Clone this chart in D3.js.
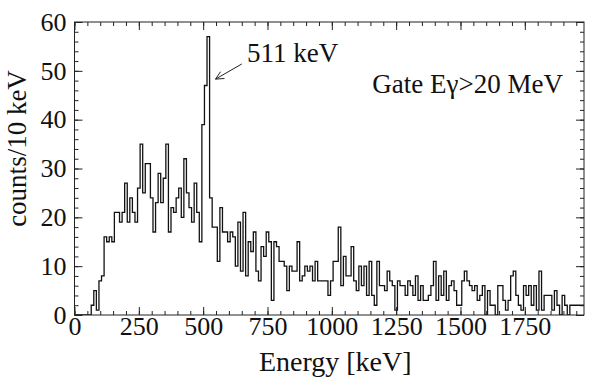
<!DOCTYPE html>
<html>
<head>
<meta charset="utf-8">
<script src="https://cdn.jsdelivr.net/npm/d3@7"></script>
<style>
  body { margin: 0; background: #fff; }
  svg text { font-family: "Liberation Serif", "Times New Roman", serif; fill: #111; }
</style>
</head>
<body>
<svg id="chart"></svg>
<script>
// counts per 10 keV bin, first bin starts at 5 keV
var counts = [
  0,0,0,0,0,0,2,5,1,7,
  8,16,15,16,15,21,21,19,21,27,
  19,24,21,19,26,35,25,31,31,24,
  17,23,29,23,28,35,17,22,21,24,
  26,20,32,25,22,19,27,21,15,39,
  47,57,24,18,18,11,22,17,17,15,
  17,16,10,19,9,21,8,15,13,17,
  9,7,14,12,17,15,3,15,14,11,
  11,10,5,10,9,9,15,7,8,10,
  9,10,7,11,7,7,7,7,4,7,
  11,11,18,6,12,8,8,14,7,5,
  10,6,10,4,11,4,2,11,6,6,
  5,9,7,6,1,7,6,6,4,7,
  6,4,8,3,6,3,3,4,6,11,
  3,8,4,9,3,6,7,5,2,2,
  7,9,7,6,5,6,3,4,6,0,
  5,2,2,0,6,6,3,1,3,8,
  9,4,2,1,6,4,6,2,6,1,
  9,1,4,4,4,1,5,2,0,4,
  2,0,2,2,2,2,2,2
];
var firstEdge = 5, binWidth = 10;
var xTicks = [0, 250, 500, 750, 1000, 1250, 1500, 1750];
var yTicks = [0, 10, 20, 30, 40, 50, 60];
var xMinor = d3.range(0, 1980, 50);
var yMinor = d3.range(0, 61, 2);

// Set the dimensions and margins
var margin = {top: 22, right: 8, bottom: 66, left: 74.5},
  width = 592 - margin.left - margin.right,
  height = 381 - margin.top - margin.bottom;

var svg = d3.select("#chart")
  .attr("width", 592)
  .attr("height", 381)
.append("g")
  .attr("transform", "translate(" + margin.left + "," + margin.top + ")");

var x = d3.scaleLinear().domain([0, 1980]).range([0, width]);
var y = d3.scaleLinear().domain([0, 60]).range([height, 0]);

svg.append("clipPath").attr("id", "clip")
  .append("rect").attr("width", width).attr("height", height);

// histogram outline as a step line
var pts = [[0, 0]];
counts.forEach(function(c, i) { pts.push([firstEdge + i * binWidth, c]); });
pts.push([firstEdge + counts.length * binWidth, counts[counts.length - 1]]);

var line = d3.line()
  .x(function(d) { return x(d[0]); })
  .y(function(d) { return y(d[1]); })
  .curve(d3.curveStepAfter);

svg.append("path")
  .datum(pts)
  .attr("clip-path", "url(#clip)")
  .attr("d", line)
  .style("fill", "none")
  .style("stroke", "#111")
  .style("stroke-width", 1.3);

// axes, ticks pointing inward
function styleAxis(g) {
  g.select(".domain").remove();
  g.selectAll("line").style("stroke", "#222");
  g.selectAll("text").style("font-size", "26px").style("font-family", "Liberation Serif");
}

svg.append("g").attr("transform", "translate(0," + height + ")")
  .call(d3.axisBottom(x).tickValues(xMinor).tickSize(-4).tickFormat(""))
  .call(styleAxis);
svg.append("g").attr("transform", "translate(0," + height + ")")
  .call(d3.axisBottom(x).tickValues(xTicks).tickSize(-8).tickPadding(2).tickFormat(d3.format("d")))
  .call(styleAxis);
svg.append("g")
  .call(d3.axisTop(x).tickValues(xMinor).tickSize(-4).tickFormat(""))
  .call(styleAxis);
svg.append("g")
  .call(d3.axisTop(x).tickValues(xTicks).tickSize(-8).tickFormat(""))
  .call(styleAxis);

svg.append("g")
  .call(d3.axisLeft(y).tickValues(yMinor).tickSize(-4).tickFormat(""))
  .call(styleAxis);
svg.append("g")
  .call(d3.axisLeft(y).tickValues(yTicks).tickSize(-8).tickPadding(8).tickFormat(d3.format("d")))
  .call(styleAxis);
svg.append("g").attr("transform", "translate(" + width + ",0)")
  .call(d3.axisRight(y).tickValues(yMinor).tickSize(-4).tickFormat(""))
  .call(styleAxis);
svg.append("g").attr("transform", "translate(" + width + ",0)")
  .call(d3.axisRight(y).tickValues(yTicks).tickSize(-8).tickFormat(""))
  .call(styleAxis);

// frame
svg.append("rect")
  .attr("width", width).attr("height", height)
  .style("fill", "none").style("stroke", "#222").style("stroke-width", 1);

// axis titles
svg.append("text")
  .attr("x", width / 2 + 6).attr("y", height + 56)
  .style("text-anchor", "middle").style("font-size", "28px")
  .text("Energy [keV]");

svg.append("text")
  .attr("transform", "translate(" + (-49) + "," + (height / 2 - 20) + ") rotate(-90)")
  .style("text-anchor", "middle").style("font-size", "27px")
  .text("counts/10 keV");

// annotation for the 511 keV peak
var arrowFrom = [650, 51.4], arrowTo = [548, 48.3];
svg.append("line")
  .attr("x1", x(arrowFrom[0])).attr("y1", y(arrowFrom[1]))
  .attr("x2", x(arrowTo[0])).attr("y2", y(arrowTo[1]))
  .style("stroke", "#222").style("stroke-width", 1);
var ang = Math.atan2(y(arrowFrom[1]) - y(arrowTo[1]), x(arrowFrom[0]) - x(arrowTo[0]));
[0.45, -0.45].forEach(function(a) {
  svg.append("line")
    .attr("x1", x(arrowTo[0])).attr("y1", y(arrowTo[1]))
    .attr("x2", x(arrowTo[0]) + 9 * Math.cos(ang + a))
    .attr("y2", y(arrowTo[1]) + 9 * Math.sin(ang + a))
    .style("stroke", "#222").style("stroke-width", 1);
});

svg.append("text")
  .attr("x", x(670)).attr("y", y(51.8))
  .style("font-size", "27px")
  .text("511 keV");

svg.append("text")
  .attr("x", x(1898)).attr("y", y(45.5))
  .style("text-anchor", "end").style("font-size", "27px")
  .text("Gate E\u03b3>20 MeV");
</script>
</body>
</html>
